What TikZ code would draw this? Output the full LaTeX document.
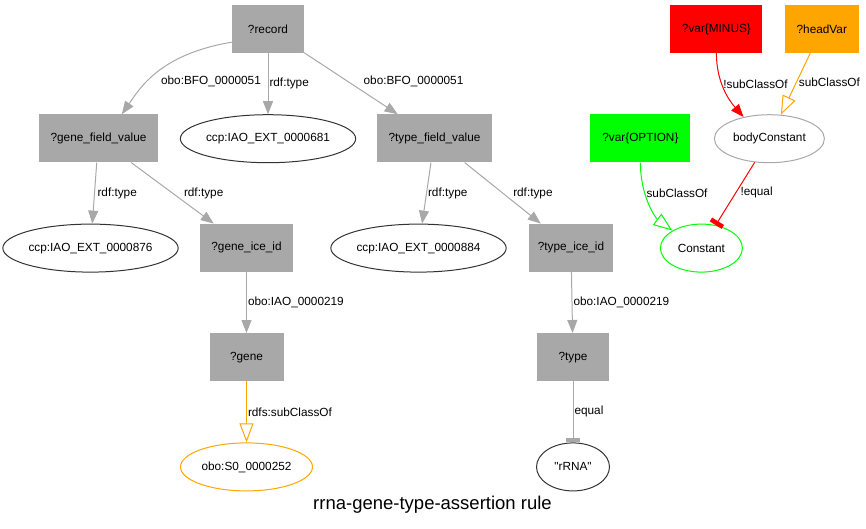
\documentclass[tikz,border=0pt]{standalone}
\usepackage{fontspec}
\setmainfont{Liberation Sans}
\usetikzlibrary{positioning,shapes.geometric,arrows.meta}
\definecolor{boxgray}{RGB}{168,168,168}
\definecolor{minusred}{RGB}{255,0,0}
\definecolor{headorange}{RGB}{255,165,0}
\definecolor{optiongreen}{RGB}{0,255,0}

\begin{document}
\begin{tikzpicture}[
node distance=61pt, varbox/.style={rectangle, fill=boxgray, minimum height=48pt, inner xsep=4pt, font=\fontsize{11.8}{14}\selectfont}, classnode/.style={ellipse, draw=black!80, line width=1pt, minimum height=48pt, inner sep=0pt, font=\fontsize{11.8}{14}\selectfont}, link/.style={-{Triangle[length=13pt,width=10pt]}, line width=1pt, draw=boxgray}, sublink/.style={-{Triangle[open,length=19pt,width=14pt]}, line width=1pt}, teelink/.style={-{Rectangle[length=4.5pt,width=14pt]}, line width=1pt}, lbl/.style={font=\fontsize{11.8}{14}\selectfont, inner sep=1pt}, rulename/.style={font=\fontsize{18.5}{22}\selectfont} ]
\useasboundingbox (0,0) rectangle (866pt,-528pt);
\node[varbox, minimum width=72pt] (record) at (268pt,-29pt) {?record};
\node[varbox, minimum width=92pt, fill=minusred, right=366pt of record] (minus) {?var\{MINUS\}};
\node[varbox, minimum width=74pt, fill=headorange, right=22pt of minus] (headvar) {?headVar};
\node[varbox, minimum width=119pt, below=of record, xshift=-169.5pt] (genefield) {?gene\_field\_value};
\node[classnode, minimum width=171pt, below=of record] (iao681) {ccp:IAO\_EXT\_0000681};
\node[varbox, minimum width=115pt, below=of record, xshift=166.5pt] (typefield) {?type\_field\_value};
\node[varbox, minimum width=100pt, fill=optiongreen, below=of minus, xshift=-76pt] (option) {?var\{OPTION\}};
\node[classnode, minimum width=110pt, draw=boxgray, below=of minus, xshift=53pt] (bodyconst) {bodyConstant};
\node[classnode, minimum width=171pt, below=of genefield, xshift=-8pt] (iao876) {ccp:IAO\_EXT\_0000876};
\node[varbox, minimum width=93pt, below=of genefield, xshift=148pt] (geneice) {?gene\_ice\_id};
\node[classnode, minimum width=171pt, below=of typefield, xshift=-16pt] (iao884) {ccp:IAO\_EXT\_0000884};
\node[varbox, minimum width=84pt, below=of typefield, xshift=136.5pt] (typeice) {?type\_ice\_id};
\node[classnode, minimum width=82pt, draw=optiongreen, below=of option, xshift=61pt] (constant) {Constant};
\node[varbox, minimum width=74pt, below=of geneice] (gene) {?gene};
\node[varbox, minimum width=72pt, below=of typeice, xshift=2pt] (type) {?type};
\node[classnode, minimum width=132pt, draw=headorange, below=of gene] (so252) {obo:S0\_0000252};
\node[classnode, minimum width=73pt, below=of type] (rrna) {\textquotedbl rRNA\textquotedbl};
\node[rulename] (title) at (432.5pt,-505pt) {rrna-gene-type-assertion rule};
\draw[link] (record.200) .. controls +(-72pt,-12pt) and +(18pt,26pt) .. (genefield.46) node[lbl, pos=0.6, right, xshift=12pt] {obo:BFO\_0000051};
\draw[link] (record) -- (iao681) node[lbl, pos=0.5, right] {rdf:type};
\draw[link] (record) -- (typefield) node[lbl, pos=0.47, right, xshift=14pt] {obo:BFO\_0000051};
\draw[link] (genefield) -- (iao876) node[lbl, pos=0.5, right, xshift=1.5pt] {rdf:type};
\draw[link] (genefield) -- (geneice) node[lbl, pos=0.5, right, xshift=10pt] {rdf:type};
\draw[link] (typefield) -- (iao884) node[lbl, pos=0.5, right] {rdf:type};
\draw[link] (typefield) -- (typeice) node[lbl, pos=0.5, right, xshift=9pt] {rdf:type};
\draw[link] (geneice) -- (gene) node[lbl, pos=0.5, right] {obo:IAO\_0000219};
\draw[link] (typeice) -- (type) node[lbl, pos=0.5, right] {obo:IAO\_0000219};
\draw[sublink, draw=headorange] (gene) -- (so252) node[lbl, pos=0.5, right] {rdfs:subClassOf};
\draw[teelink, draw=boxgray] (type) -- (rrna) node[lbl, pos=0.5, right] {equal};
\draw[link, draw=minusred] (minus.south) .. controls +(0pt,-30pt) and +(-14pt,16pt) .. (bodyconst.140) node[lbl, pos=0.4, right] {!subClassOf};
\draw[sublink, draw=headorange] (headvar) -- (bodyconst) node[lbl, pos=0.47, right, xshift=1pt] {subClassOf};
\draw[sublink, draw=optiongreen] (option.south) .. controls +(0pt,-35pt) and +(-16pt,12pt) .. (constant.149) node[lbl, pos=0.33, right] {subClassOf};
\draw[teelink, draw=minusred] (bodyconst) -- (constant) node[lbl, pos=0.48, right, xshift=3pt] {!equal};
\end{tikzpicture}
\end{document}
